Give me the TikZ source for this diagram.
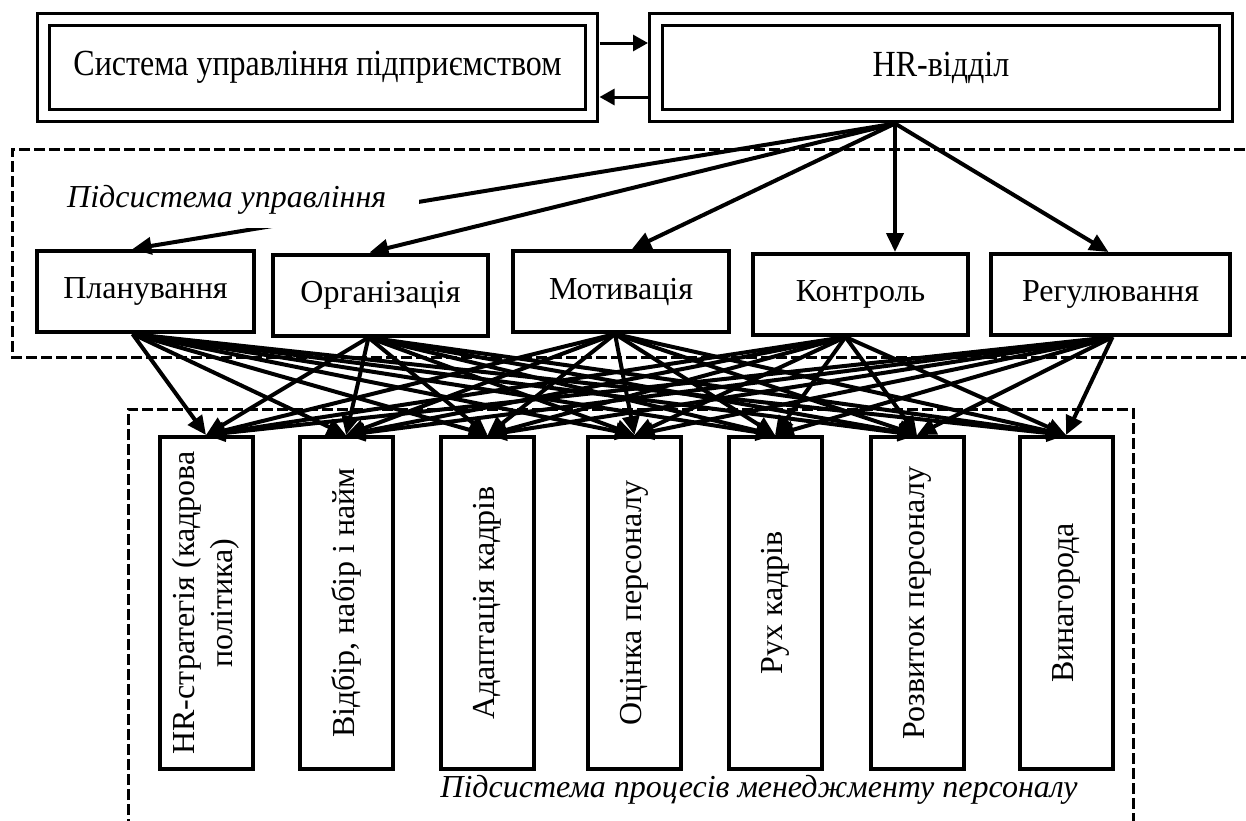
\documentclass[tikz,border=0pt]{standalone}
\usepackage{fontspec}
\setmainfont{Liberation Serif}
\usepackage{graphicx}
\usepackage{tikz}
\usetikzlibrary{arrows.meta,positioning,calc}
\newcommand{\diagfont}{\fontsize{32}{38}\selectfont}
\newcommand{\tallbox}[1]{\scalebox{1}[1.15]{#1}}

\begin{document}
\begin{tikzpicture}[x=1pt,y=-1pt,font=\diagfont,
  topbox/.style={draw,line width=3pt,double,double distance=9.5pt,outer sep=8pt,minimum height=96pt,inner sep=0pt},
  funcbox/.style={draw,line width=4pt,minimum height=81pt,inner sep=0pt},
  procbox/.style={draw,line width=4pt,minimum width=93pt,minimum height=332pt,inner sep=0pt},
  arr/.style={line width=4pt,-{Triangle[length=19pt,width=17pt]}},
  arrsm/.style={line width=3pt,-{Triangle[length=15pt,width=16pt]}},
  dashframe/.style={line width=3pt,dash pattern=on 11pt off 4pt},
  sublbl/.style={font=\diagfont\itshape}]
  \useasboundingbox (0,0) rectangle (1246,820);
  \draw[dashframe] (1260,149) -- (12,149) -- (12,357) -- (1260,357); % верхня підсистема (праворуч відкрита)
  \draw[dashframe] (128,830) -- (128,409) -- (1133,409) -- (1133,830);

  \node[topbox,minimum width=548pt] (sys) at (317.5,67.5) {\tallbox{Система управління підприємством}};
  \node[topbox,minimum width=570pt] (hr) at (941,67.5) {\tallbox{HR-відділ}};
  \draw[arrsm] ($(sys.east)+(0,-24.5)$) -- ($(hr.west)+(0,-24.5)$);
  \draw[arrsm] ($(hr.west)+(0,29.5)$) -- ($(sys.east)+(0,29.5)$);
  \coordinate (hub) at ([xshift=-46pt]hr.south);

  \node[funcbox,minimum width=217pt] (plan) at (145.5,291.5) {Планування};
  \node[funcbox,minimum width=215pt] (org) at (380.5,295) {Організація};
  \node[funcbox,minimum width=216pt] (motiv) at (621,291.5) {Мотивація};
  \node[funcbox,minimum width=215pt] (kontr) at (860.5,294.5) {Контроль};
  \node[funcbox,minimum width=239pt] (reg) at (1110.5,294.5) {Регулювання};

  \node[procbox] (p1) at (206,603) {\rotatebox{90}{\begin{tabular}{@{}c@{}}HR-стратегія (кадрова\\політика)\end{tabular}}};
  \node[procbox] (p2) at (346,603) {\rotatebox{90}{Відбір, набір і найм}};
  \node[procbox] (p3) at (487.5,603) {\rotatebox{90}{Адаптація кадрів}};
  \node[procbox] (p4) at (634.5,603) {\rotatebox{90}{Оцінка персоналу}};
  \node[procbox] (p5) at (775,603) {\rotatebox{90}{Рух кадрів}};
  \node[procbox] (p6) at (917,603) {\rotatebox{90}{Розвиток персоналу}};
  \node[procbox] (p7) at (1066,603) {\rotatebox{90}{Винагорода}};

  \draw[arr] (hub) -- ([xshift=-13pt]plan.north);
  \draw[arr] (hub) -- ([xshift=-11pt]org.north);
  \draw[arr] (hub) -- ([xshift=11pt]motiv.north);
  \draw[arr] (hub) -- (hub |- kontr.north);
  \draw[arr] (hub) -- ([xshift=-2pt]reg.north);
  \node[sublbl,fill=white,inner xsep=33pt,inner ysep=14pt,anchor=base west] (subctl) at (34,207) {Підсистема управління};

  % кожна функція -> кожен процес
  \foreach \f/\dx in {plan/-13,org/-12,motiv/-6,kontr/-15,reg/2}
    \foreach \p in {1,...,7}
      \draw[arr] ([xshift=\dx pt]\f.south) -- (p\p.north);

  \node[sublbl,anchor=base] (subproc) at (759,797) {Підсистема процесів менеджменту персоналу};
\end{tikzpicture}
\end{document}
